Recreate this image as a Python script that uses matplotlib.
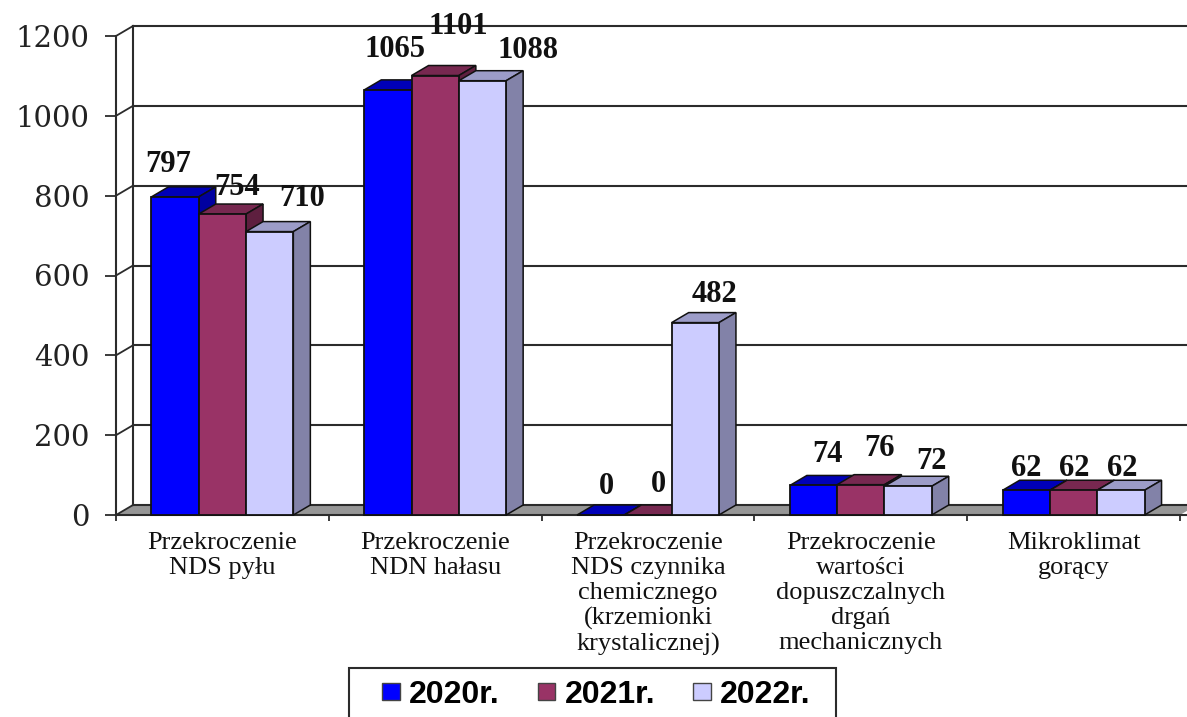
import numpy as np
import matplotlib
matplotlib.use("Agg")
import matplotlib.pyplot as plt
from matplotlib.patches import Patch, Rectangle

categories = ["Przekroczenie\nNDS pyłu", "Przekroczenie\nNDN hałasu",
              "Przekroczenie\nNDS czynnika\nchemicznego\n(krzemionki\nkrystalicznej)",
              "Przekroczenie\nwartości\ndopuszczalnych\ndrgań\nmechanicznych",
              "Mikroklimat\ngorący"]
years = ["2020r.", "2021r.", "2022r."]
v2020 = [797, 1065, 0, 74, 62]
v2021 = [754, 1101, 0, 76, 62]
v2022 = [710, 1088, 482, 72, 62]
yticks = [0, 200, 400, 600, 800, 1000, 1200]

# colours per series: front, top, side
front = ["#0000FF", "#993366", "#CCCCFF"]
top = ["#0000B8", "#772850", "#9C9CC8"]
side = ["#0000A0", "#5E1F3F", "#8282A8"]
# label offsets from the bar's front top centre, in pixels
lab_dx = [[-7, 7, 6, 14, 0], [15, 23, 10, 19, 1], [32, 45, 19, 23, 1]]
lab_dy = [[32, 40, 28, 31, 22], [27, 49, 30, 36, 22], [33, 30, 28, 25, 22]]

W, H = 1187, 717
FX0, FX1, FY0, FY1 = 116, 1180, 515, 36
DEPTH_X = 17 / 212.8      # in category units
DEPTH_Y = 10 / (479 / 1200)  # in value units
BAR_W = 47.3 / 212.8
INK = "#2b2b2b"

plt.rcParams["font.family"] = ["Liberation Serif", "DejaVu Serif"]
fig = plt.figure(figsize=(W / 100, H / 100), dpi=100)
ax = fig.add_axes([FX0 / W, 1 - FY0 / H, (FX1 - FX0) / W, (FY0 - FY1) / H])
ax.set_xlim(0, 5)
ax.set_ylim(0, 1200)
ax.patch.set_visible(False)
for s in ["top", "right", "bottom"]:
    ax.spines[s].set_visible(False)
ax.spines["left"].set_color(INK)
ax.spines["left"].set_linewidth(1.5)

# floor and back wall
ax.fill([0, 5, 5 + DEPTH_X, DEPTH_X], [0, 0, DEPTH_Y, DEPTH_Y], color="#969696", zorder=1, clip_on=False, lw=0)
for t in yticks:
    ax.plot([0, DEPTH_X], [t, t + DEPTH_Y], color=INK, lw=1.3, zorder=1.5, clip_on=False)
    ax.plot([DEPTH_X, 5.1], [t + DEPTH_Y, t + DEPTH_Y], color=INK, lw=1.5, zorder=1.5, clip_on=False)
ax.plot([DEPTH_X, DEPTH_X], [DEPTH_Y, 1200 + DEPTH_Y], color=INK, lw=1.5, zorder=1.5, clip_on=False)
ax.plot([0, 5.1], [0, 0], color=INK, lw=1.5, zorder=1.6, clip_on=False)

x = np.arange(5) + 0.5
z = 2
for i, vals in enumerate([v2020, v2021, v2022]):
    for j, v in enumerate(vals):
        left = x[j] + (i - 1.5) * BAR_W
        right = left + BAR_W
        ax.fill([left, right, right + DEPTH_X, left + DEPTH_X], [v, v, v + DEPTH_Y, v + DEPTH_Y],
                facecolor=top[i], edgecolor="#111111", lw=1.1, zorder=z + j * 10 + i, clip_on=False)
        ax.fill([right, right + DEPTH_X, right + DEPTH_X, right], [0, DEPTH_Y, v + DEPTH_Y, v],
                facecolor=side[i], edgecolor="#111111", lw=1.1, zorder=z + j * 10 + i, clip_on=False)
        ax.bar(left, v, BAR_W, align="edge", color=front[i], edgecolor="#111111", lw=1.3,
               zorder=z + j * 10 + i + 0.5, clip_on=False)
        ax.annotate(str(v), (left + BAR_W / 2, v), xytext=(lab_dx[i][j] * 0.72, lab_dy[i][j] * 0.72),
                    textcoords="offset points", ha="center", va="center", fontsize=22,
                    fontweight="bold", color="#111111", zorder=100, annotation_clip=False)

ax.set_yticks(yticks)
ax.tick_params(axis="y", length=8, width=1.3, color=INK, labelsize=21, pad=11)
for lab in ax.get_yticklabels():
    lab.set_family("DejaVu Serif")
    lab.set_color("#222222")
ax.set_xticks(np.arange(6))
ax.set_xticklabels([])
ax.tick_params(axis="x", which="major", length=4, width=1.3, color=INK)
ax.set_xticks(x, minor=True)
ax.set_xticklabels(categories, minor=True, fontsize=19, linespacing=1.18, color="#111111")
ax.tick_params(axis="x", which="minor", length=0, pad=12)

# legend box runs off the bottom edge of the picture
fig.add_artist(Rectangle((349 / W, -0.05), 487 / W, 0.05 + (H - 668) / H, transform=fig.transFigure,
                         facecolor="white", edgecolor=INK, lw=1.5, zorder=5))
handles = [Patch(facecolor=front[i], edgecolor="#444444", label=years[i]) for i in range(3)]
leg = fig.legend(handles=handles, ncol=3, loc="center left", bbox_to_anchor=(382 / W, 1 - 695 / H),
                 borderaxespad=0, frameon=False, handlelength=0.56, handleheight=0.44,
                 handletextpad=0.28, columnspacing=1.19, borderpad=0,
                 prop={"family": "Liberation Sans", "weight": "bold", "size": 23})
leg.set_zorder(6)

fig.savefig("out.png", dpi=100)
